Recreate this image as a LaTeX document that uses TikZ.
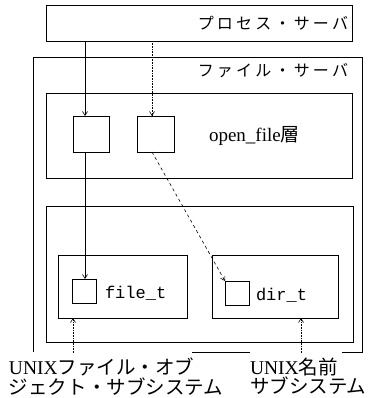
\documentclass[tikz,border=0pt]{standalone}
\usepackage{fontspec}
\setmainfont{Liberation Serif}
\setmonofont{Liberation Mono}
\newfontfamily\jp{Noto Sans CJK JP}
\newfontfamily\jpsp[LetterSpace=20]{Noto Sans CJK JP}
\usetikzlibrary{arrows.meta}
\begin{document}
\begin{tikzpicture}[x=1pt,y=-1pt,
  box/.style={draw,line width=0.7pt,inner sep=0pt,anchor=north west},
  sq/.style={draw,line width=0.7pt,inner sep=0pt,anchor=north west,minimum width=24pt,minimum height=24pt},
  title/.style={inner sep=0pt,anchor=east,font=\fontsize{16}{16}\selectfont\jpsp},
  lbl/.style={inner sep=0pt,anchor=north west,align=left,font=\fontsize{19.5}{19.5}\selectfont},
  arr/.style={line width=0.6pt,-{Straight Barb[length=4pt,width=5pt]}},
  every node/.style={outer sep=0pt}]
\useasboundingbox (0,0) rectangle (368,398);
% process server
\node[box,minimum width=306pt,minimum height=36pt] (ps) at (46,5) {};
\node[title] (pst) at (348,23) {プロセス・サーバ};
% file server (frame drawn piecewise)
\node[inner sep=0pt,anchor=north west,minimum width=329pt,minimum height=295pt] (fs) at (33,57) {};
\draw[line width=0.7pt] (fs.south west) -- (fs.north west) -- (fs.north east) -- (fs.south east) -- ++(-20,0);
\coordinate (fb1) at (192,352);
\coordinate (fb2) at (250,352);
\draw[line width=0.7pt] (fb1) -- (fb2);
\node[title] (fst) at (348,71) {ファイル・サーバ};
% open_file layer
\node[box,minimum width=306pt,minimum height=85pt] (of) at (46,93) {};
\node[sq,minimum width=36pt,minimum height=36pt] (b1) at (73,116) {};
\node[sq,minimum width=37pt,minimum height=36pt] (b2) at (137,116) {};
\node[inner sep=0pt,anchor=west,font=\fontsize{19}{19}\selectfont] (oft) at (209,136) {open\_file{\jp 層}};
% subsystem container
\node[box,minimum width=307pt,minimum height=136pt] (sub) at (46,206) {};
\node[box,minimum width=129pt,minimum height=63pt] (ft) at (58,255) {};
\node[sq] (fsq) at (72,279) {};
\node[inner sep=0pt,anchor=west,font=\fontsize{17}{17}\ttfamily] (ftt) at (105,293) {file\_t};
\node[box,minimum width=126pt,minimum height=63pt] (dt) at (212,255) {};
\node[sq] (dsq) at (225,281) {};
\node[inner sep=0pt,anchor=west,font=\fontsize{17}{17}\ttfamily] (dtt) at (256,295) {dir\_t};
% arrows
\draw[arr] (ps.south -| 85,0) -- (b1.north -| 85,0);
\draw[arr,densely dotted] (ps.south -| 152,0) -- (b2.north -| 152,0);
\draw[arr] (b1.south -| 85,0) -- (fsq.north -| 85,0);
\draw[arr,dashed] (b2.south -| 152,0) -- (dsq.north west);
% labels
\node[lbl] (l1) at (9,358) {UNIX{\jp ファイル・オブ}\\{\jp ジェクト・サブシステム}};
\node[lbl] (l2) at (250,358) {UNIX{\jp 名前}\\{\jp サブシステム}};
\coordinate (a1) at (73,353);
\coordinate (a2) at (301,353);
\draw[arr,densely dotted] (a1) -- (a1 |- ft.south);
\draw[arr,densely dotted] (a2) -- (a2 |- dt.south);
\end{tikzpicture}
\end{document}
